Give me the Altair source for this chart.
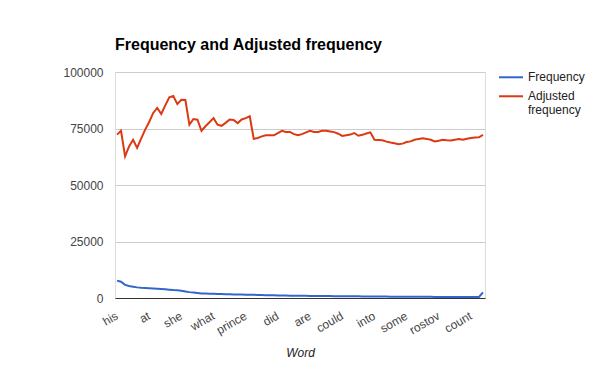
import json
import altair as alt
import pandas as pd

# ---- data ----
label_words = ["his", "at", "she", "what", "prince", "did", "are", "could",
               "into", "some", "rostov", "count"]
label_step = 8

frequency = [
    7700, 7200, 5800, 5300, 5000, 4700, 4500, 4400, 4300, 4200,
    4100, 4000, 3900, 3700, 3500, 3400, 3200, 2900, 2600, 2400,
    2200, 2000, 1950, 1900, 1850, 1800, 1750, 1700, 1650, 1600,
    1550, 1500, 1480, 1450, 1400, 1350, 1300, 1250, 1200, 1170,
    1140, 1110, 1080, 1050, 1020, 1000, 980, 960, 940, 920,
    900, 880, 860, 840, 820, 800, 785, 770, 755, 740,
    720, 705, 690, 675, 660, 645, 630, 615, 600, 585,
    570, 560, 550, 540, 530, 520, 510, 505, 500, 495,
    490, 485, 480, 475, 470, 465, 460, 455, 450, 445,
    440, 2500,
]

adjusted = [
    72300, 74000, 62700, 67100, 70000, 66400, 70500, 74500, 77900, 81900,
    84100, 81400, 85200, 88800, 89400, 85800, 87700, 87600, 76700, 79200,
    78900, 74000, 76000, 77800, 79600, 76700, 76200, 77500, 79000, 78800,
    77400, 79000, 79600, 80400, 70400, 70800, 71500, 72000, 72000, 72000,
    73000, 74000, 73500, 73500, 72500, 72000, 72500, 73300, 74000, 73500,
    73500, 74000, 74000, 73700, 73400, 72700, 71700, 72000, 72300, 73000,
    71800, 72200, 72800, 73300, 70000, 69900, 69800, 69200, 68800, 68500,
    68000, 68300, 69000, 69300, 70000, 70400, 70700, 70400, 70000, 69300,
    69600, 70000, 69800, 69700, 70000, 70300, 70000, 70500, 70800, 71000,
    71100, 72200,
]

series_names = ["Frequency", "Adjusted frequency"]
series_colors = ["#3366cc", "#dc3912"]
y_ticks = [0, 25000, 50000, 75000, 100000]

n = len(frequency)
rows = []
for i in range(n):
    rows.append({"idx": i, "series": series_names[0], "value": frequency[i]})
    rows.append({"idx": i, "series": series_names[1], "value": adjusted[i]})
df = pd.DataFrame(rows)

label_values = [k * label_step for k in range(len(label_words))]
label_expr = json.dumps(label_words) + "[round(datum.value / %d)]" % label_step

chart = (
    alt.Chart(df)
    .mark_line(strokeWidth=2)
    .encode(
        x=alt.X(
            "idx:Q",
            scale=alt.Scale(domain=[-0.5, n - 0.5], nice=False, zero=False),
            axis=alt.Axis(
                title="Word",
                values=label_values,
                labelExpr=label_expr,
                labelAngle=330,
                labelAlign="right",
                labelBaseline="top",
                labelPadding=12,
                labelOffset=-3,
                ticks=False,
                grid=False,
                domain=True,
                domainColor="#333333",
                domainWidth=1,
                labelFont="Liberation Sans",
                labelFontSize=12,
                labelColor="#444444",
                titleFont="Liberation Sans",
                titleFontSize=12,
                titleFontStyle="italic",
                titleFontWeight="normal",
                titleColor="#222222",
                titlePadding=12,
                labelOverlap=False,
                labelFlush=False,
            ),
        ),
        y=alt.Y(
            "value:Q",
            scale=alt.Scale(domain=[0, 100000], nice=False),
            axis=alt.Axis(
                title=None,
                values=y_ticks,
                format="d",
                ticks=False,
                domain=False,
                grid=True,
                gridColor="#cccccc",
                gridWidth=1,
                labelFont="Liberation Sans",
                labelFontSize=12,
                labelColor="#444444",
                labelPadding=12,
            ),
        ),
        color=alt.Color(
            "series:N",
            scale=alt.Scale(domain=series_names, range=series_colors),
            sort=series_names,
            legend=alt.Legend(
                title=None,
                orient="none",
                legendX=389,
                legendY=-7,
                symbolType="M-2,0.88H2",
                symbolStrokeWidth=2,
                symbolSize=144,
                symbolFillColor="transparent",
                labelFont="Liberation Sans",
                labelFontSize=12,
                labelColor="#222222",
                labelOffset=10,
                labelBaseline="top",
                labelLimit=200,
                rowPadding=1,
                labelExpr="datum.label == 'Adjusted frequency' ? ['Adjusted', 'frequency'] : datum.label",
            ),
        ),
        order=alt.Order("idx:Q"),
    )
    .properties(
        width=370,
        height=226,
        title=alt.TitleParams(
            "Frequency and Adjusted frequency",
            anchor="start",
            frame="group",
            font="Liberation Sans",
            fontSize=16,
            fontWeight="bold",
            color="#000000",
            offset=12,
        ),
        autosize=alt.AutoSizeParams(type="none"),
        padding={"left": 107, "top": 64, "right": 107, "bottom": 65},
    )
    .configure_view(stroke=None)
    .configure(background="white")
)

chart.save("out.html", embed_options={"renderer": "svg", "actions": False})
